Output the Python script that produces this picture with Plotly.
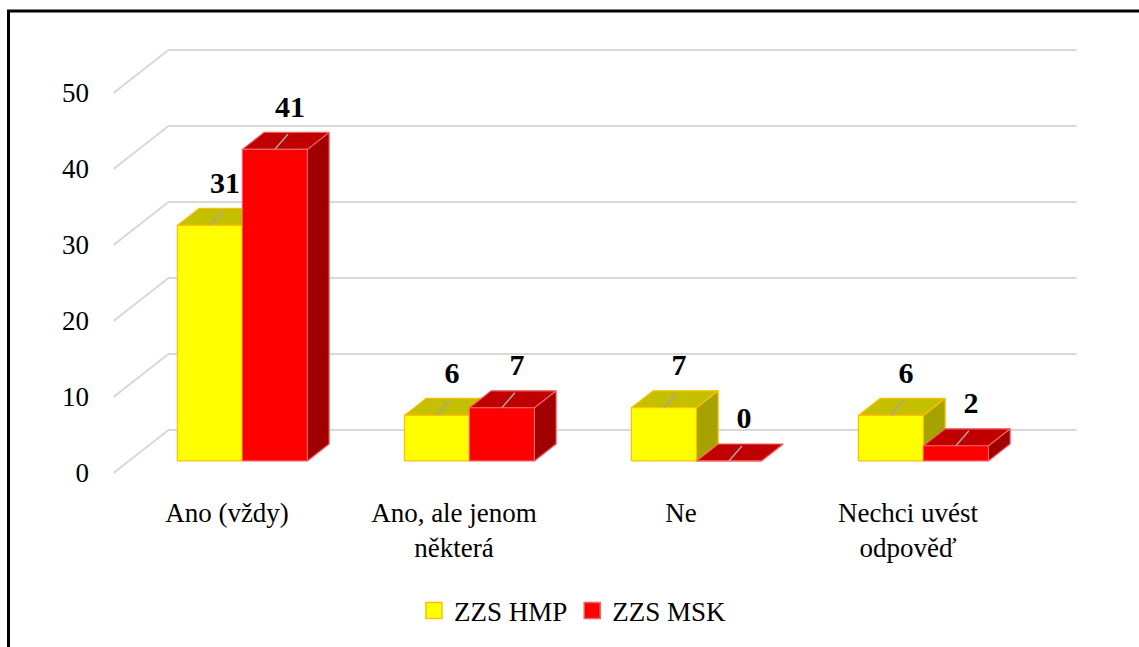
import plotly.graph_objects as go

# ---- data ----
categories = ["Ano (vždy)", "Ano, ale jenom<br>některá", "Ne", "Nechci uvést<br>odpověď"]
series_names = ["ZZS HMP", "ZZS MSK"]
hmp_values = [31, 6, 7, 6]
msk_values = [41, 7, 0, 2]
y_ticks = [0, 10, 20, 30, 40, 50]

# ---- style / geometry (pseudo 3D projection) ----
FONT = "Liberation Serif"
DX = 55 / 227.0      # depth offset in x units
DY = 43 / 7.6        # depth offset in y units
D0, D1 = 0.28, 0.675 # bar depth span (fraction of full depth)
W = 65 / 227.0       # bar width in category units

styles = [
    dict(front="#FFFF00", top="#C4C000", side="#A6A300", line="#FFC000"),
    dict(front="#FF0000", top="#C00000", side="#A00000", line="#F06060"),
]

fig = go.Figure()

# back wall + side wall gridlines
gx, gy = [], []
x_left, x_right = -0.5, 3.5
for v in y_ticks:
    gx += [x_left, x_left + DX, x_right + DX, None]
    gy += [v, v + DY, v + DY, None]
fig.add_trace(go.Scatter(x=gx, y=gy, mode="lines", line=dict(color="#D9D9D9", width=2),
                         hoverinfo="skip", showlegend=False))

def poly(xs, ys, fill, line):
    fig.add_trace(go.Scatter(x=xs + [xs[0]], y=ys + [ys[0]], mode="lines", fill="toself",
                             fillcolor=fill, line=dict(color=line, width=1.2),
                             hoverinfo="skip", showlegend=False))

label_x, label_y, label_t = [], [], []
lead_x, lead_y = [], []
all_values = [hmp_values, msk_values]
for i in range(len(categories)):
    for s, vals in enumerate(all_values):
        v = vals[i]
        st = styles[s]
        x0 = i - W + s * W
        x1 = x0 + W
        fx0, fx1 = x0 + D0 * DX, x1 + D0 * DX
        bx0, bx1 = x0 + D1 * DX, x1 + D1 * DX
        fb, bb = D0 * DY, D1 * DY
        # side face
        poly([fx1, bx1, bx1, fx1], [fb, bb, v + bb, v + fb], st["side"], st["line"])
        # top face
        poly([fx0, fx1, bx1, bx0], [v + fb, v + fb, v + bb, v + bb], st["top"], st["line"])
        # front face
        poly([fx0, fx1, fx1, fx0], [fb, fb, v + fb, v + fb], st["front"], st["line"])
        cx = (fx0 + fx1) / 2
        lead_x += [cx, cx + 13 / 227.0, None]
        lead_y += [v + fb, v + fb + 15 / 7.6, None]
        label_x.append(cx + 15 / 227.0)
        label_y.append(v + fb + 40 / 7.6)
        label_t.append(str(v))

fig.add_trace(go.Scatter(x=lead_x, y=lead_y, mode="lines", line=dict(color="#A6A6A6", width=1.5),
                         hoverinfo="skip", showlegend=False))
fig.add_trace(go.Scatter(x=label_x, y=label_y, mode="text", text=label_t,
                         textposition="middle center",
                         textfont=dict(family=FONT, size=30, color="#000000", weight="bold"),
                         hoverinfo="skip", showlegend=False))

# legend entries
for s, name in enumerate(series_names):
    fig.add_trace(go.Scatter(x=[None], y=[None], mode="markers", name=name,
                             marker=dict(symbol="square", size=16, color=styles[s]["front"],
                                         line=dict(color=styles[s]["line"], width=1.5))))

L, R, T, B = 100, 1100, 30, 500
fig.update_layout(
    width=1139, height=647,
    margin=dict(l=L, r=1139 - R, t=T, b=647 - B),
    paper_bgcolor="white", plot_bgcolor="white",
    font=dict(family=FONT, size=27, color="#000000"),
    xaxis=dict(range=[(L - 227) / 227.0, (R - 227) / 227.0], tickvals=list(range(len(categories))),
               ticktext=categories, showgrid=False, zeroline=False, showline=False,
               ticklabelstandoff=-6,
               tickfont=dict(family=FONT, size=27), fixedrange=True),
    yaxis=dict(range=[-(B - 473) / 7.6, (473 - T) / 7.6], tickvals=y_ticks,
               showgrid=False, zeroline=False, showline=False, ticklabelstandoff=10,
               tickfont=dict(family=FONT, size=27), fixedrange=True),
    legend=dict(orientation="h", xref="container", yref="container", x=0.503, y=1 - 611 / 647,
                xanchor="center", yanchor="middle", font=dict(family=FONT, size=27)),
    showlegend=True,
)

# outer frame (left and top edges)
px = lambda p: (p - L) / (R - L)
py = lambda p: (B - p) / (B - T)
fig.add_shape(type="line", xref="paper", yref="paper", x0=px(8.5), x1=px(8.5), y0=py(11), y1=py(660),
              line=dict(color="black", width=3))
fig.add_shape(type="line", xref="paper", yref="paper", x0=px(7), x1=px(1150), y0=py(11), y1=py(11),
              line=dict(color="black", width=3))

fig.write_html("out.html")
